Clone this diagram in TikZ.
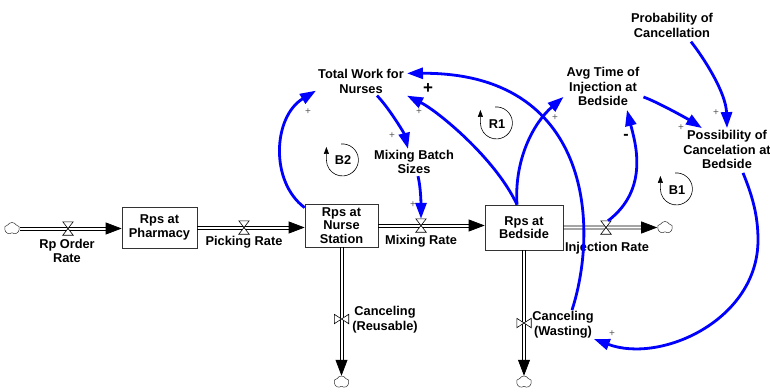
\documentclass[tikz,border=0pt]{standalone}
\usepackage{fontspec}
\setmainfont{Liberation Sans}
\usetikzlibrary{arrows.meta,shapes.symbols,calc}
\begin{document}
\begin{tikzpicture}[x=1pt,y=1pt,
 txt/.style={font=\fontsize{12.8}{14.5}\selectfont\bfseries, align=center, inner sep=1pt},
 stock/.style={draw=black!80, line width=0.7pt, inner sep=0pt, align=center, font=\fontsize{12.8}{13.5}\selectfont\bfseries},
 pl/.style={draw=black, line width=0.7pt, shorten >=15pt},
 pipetip/.style={line width=0.7pt, -{Triangle[length=16pt,width=12pt]}},
 link/.style={blue, line width=2.8pt, -{Triangle[length=16pt,width=11pt]}},
 pol/.style={font=\fontsize{10}{10}\selectfont, text=black!65, inner sep=0pt},
 vh/.style={minimum width=10pt, minimum height=13pt, inner sep=0pt},
 vv/.style={minimum width=14pt, minimum height=9pt, inner sep=0pt},
 valvedraw/.style={draw, line width=0.6pt, fill=white},
 src/.style={cloud, cloud puffs=5, cloud puff arc=120, aspect=1.2, draw=black!80, line width=0.5pt, fill=white, minimum width=15pt, minimum height=12pt, inner sep=0pt},
 loopar/.style={line width=0.6pt, -{Triangle[length=7pt,width=5pt]}},
 loopt/.style={font=\fontsize{12.8}{14}\selectfont\bfseries, inner sep=0pt},
]
\fill[white] (0,0) rectangle (770,-391);
\useasboundingbox (0,0) rectangle (770,-391);

% stocks
\node[stock, minimum width=75pt, minimum height=41pt] (ph) at (159.5,-227.5) {Rps at\\Pharmacy};
\node[stock, minimum width=73pt, minimum height=43pt] (ns) at (341.5,-225.5) {Rps at\\Nurse\\Station};
\node[stock, minimum width=78pt, minimum height=45pt] (bs) at (524,-227.5) {Rps at\\Bedside};

% clouds
\node[src] (c0) at (12,-228.5) {};
\node[src] (c1) at (665,-227.5) {};
\node[src] (c2) at (341.5,-382) {};
\node[src] (c3) at (524,-382) {};

% valve positions
\node[vh] (v1) at (68,-228.5) {};
\node[vh] (v2) at (244,-227.5) {};
\node[vh] (v3) at (421,-225.5) {};
\node[vh] (v4) at (606,-227.5) {};
\node[vv] (v5) at (341.5,-319) {};
\node[vv] (v6) at (524,-323) {};

% pipes (two parallel lines each)
\foreach \o in {-1.5,1.5}{
  \draw[pl] ($(c0.east)+(0,\o)$) -- ($(c0.east -| ph.west)+(0,\o)$);
  \draw[pl] ($(ph.east)+(0,\o)$) -- ($(ph.east -| ns.west)+(0,\o)$);
  \draw[pl] ($(ns.east)+(0,\o)$) -- ($(ns.east -| bs.west)+(0,\o)$);
  \draw[pl] ($(bs.east)+(0,\o)$) -- ($(c1.west)+(0,\o)$);
  \draw[pl] ($(ns.south)+(\o,0)$) -- ($(c2.north)+(\o,0)$);
  \draw[pl] ($(bs.south)+(\o,0)$) -- ($(c3.north)+(\o,0)$);
}
\draw[pipetip] (c0.east -| ph.west) ++(-16,0) -- ++(16,0);
\draw[pipetip] (ph.east -| ns.west) ++(-16,0) -- ++(16,0);
\draw[pipetip] (ns.east -| bs.west) ++(-16,0) -- ++(16,0);
\draw[pipetip] (c1.west) ++(-16,0) -- ++(16,0);
\draw[pipetip] (c2.north) ++(0,16) -- ++(0,-16);
\draw[pipetip] (c3.north) ++(0,16) -- ++(0,-16);

\foreach \v in {v1,v2,v3,v4}
  \draw[valvedraw] (\v.north west) -- (\v.north east) -- (\v.south west) -- (\v.south east) -- cycle;
\foreach \v in {v5,v6}
  \draw[valvedraw] (\v.north west) -- (\v.south west) -- (\v.north east) -- (\v.south east) -- cycle;

% flow labels
\node[txt] (lrp) at (67,-251) {Rp Order\\Rate};
\node[txt] (lpk) at (244,-242) {Picking Rate};
\node[txt] (lmx) at (421,-241) {Mixing Rate};
\node[txt] (lin) at (607,-248) {Injection Rate};
\node[txt] (lcr) at (385,-319.5) {Canceling\\(Reusable)};
\node[txt] (cw) at (563,-324.5) {Canceling\\(Wasting)};

% auxiliaries
\node[txt] (tw) at (361,-81.5) {Total Work for\\Nurses};
\node[txt] (mb) at (414,-162) {Mixing Batch\\Sizes};
\node[txt] (at) at (603,-86.5) {Avg Time of\\Injection at\\Bedside};
\node[txt] (pc) at (672,-25.5) {Probability of\\Cancellation};
\node[txt] (pos) at (727,-149.5) {Possibility of\\Cancelation at\\Bedside};

% links
\draw[link] ([yshift=-4pt]ns.north west) .. controls +(-35,26) and +(-43,-26) .. ([shift={(-1,4)}]tw.south west);
\draw[link] ([shift={(16,-1)}]tw.south) .. controls +(11,-11) and +(-4,16) .. ([xshift=-6pt]mb.north);
\draw[link] ([shift={(4,-1)}]mb.south) .. controls +(3,-12) and +(0,12) .. (v3.north);
\draw[link] ([xshift=-7pt]bs.north) .. controls +(-22,47) and +(30,-15) .. ([shift={(2,-1)}]tw.south east);
\draw[link] ([xshift=-7pt]bs.north) .. controls +(-3,45) and +(-30,-26) .. ([shift={(-2,10)}]at.south west);
\draw[link] ([xshift=9pt]cw.north) .. controls +(28,87) and +(182,1) .. ([shift={(2,-5)}]tw.north east);
\draw[link] ([xshift=2pt]v4.north) .. controls +(42,32) and +(8,-32) .. ([shift={(24,-3)}]at.south);
\draw[link] ([shift={(3,-10.5)}]at.east) .. controls +(14,-5) and +(-14,9) .. ([shift={(-25,1)}]pos.north);
\draw[link] ([shift={(19,-3)}]pc.south) .. controls +(14,-18) and +(-1,35) .. ([yshift=1pt]pos.north);
\draw[link] ([shift={(16,-3)}]pos.south) .. controls +(9,-22) and +(0,25) .. (758,-240) .. controls +(0,-80) and +(67,-25) .. ([xshift=-1pt]cw.south east);

% polarities
\node[pol] at (308,-112) {+};
\node[pol] at (419,-112) {+};
\node[pol] at (392,-136) {+};
\node[pol] at (413,-205) {+};
\node[pol] at (555,-118) {+};
\node[pol] at (716,-113) {+};
\node[pol] at (681,-128) {+};
\node[pol] at (612,-334) {+};
\node[font=\fontsize{17}{17}\selectfont\bfseries, inner sep=0pt] at (428,-89) {+};
\node[font=\fontsize{16}{16}\selectfont\bfseries, inner sep=0pt] at (626,-137) {-};

% loop markers
\node[loopt] (b2) at (343,-160) {B2};
\draw[loopar] ([shift={(-2,16)}]b2.center) arc[start angle=95, end angle=-180, radius=16pt] -- ++(0,13);
\node[loopt] (r1) at (497,-124) {R1};
\draw[loopar] ([shift={(-2,17)}]r1.center) arc[start angle=95, end angle=-180, radius=16pt] -- ++(0,13);
\node[loopt] (b1) at (677,-190) {B1};
\draw[loopar] ([shift={(-2,17)}]b1.center) arc[start angle=95, end angle=-180, radius=16pt] -- ++(0,13);
\end{tikzpicture}
\end{document}
